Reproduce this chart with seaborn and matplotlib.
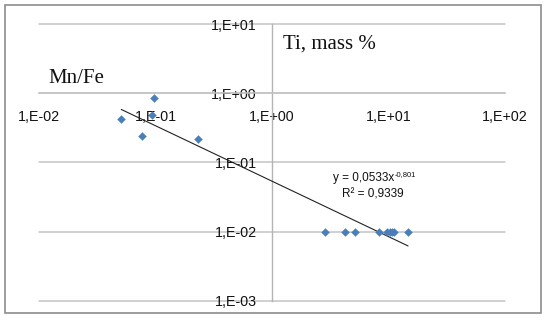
import numpy as np
import pandas as pd
import matplotlib
matplotlib.use("Agg")
import matplotlib.pyplot as plt
import seaborn as sns
from matplotlib.ticker import FixedLocator, FuncFormatter, NullLocator
from matplotlib.patches import Rectangle

# data
ti_mass = [0.0506, 0.096, 0.093, 0.076, 0.229,
           2.86, 4.25, 5.18, 8.3, 9.7, 10.2, 10.6, 11.1, 14.7]
mn_fe = [0.422, 0.847, 0.476, 0.243, 0.22,
         0.01, 0.01, 0.01, 0.01, 0.01, 0.01, 0.01, 0.01, 0.01]

# power trendline shown on the chart
fit_a = 0.0533
fit_b = -0.801
fit_label = "y = 0,0533x"
fit_exp = "-0,801"
fit_r2 = "R² = 0,9339"

x_ticks = [1e-2, 1e-1, 1e0, 1e1, 1e2]
y_ticks = [1e-3, 1e-2, 1e-1, 1e0, 1e1]

df = pd.DataFrame({"ti": ti_mass, "mnfe": mn_fe})
x_fit = np.array([min(ti_mass), max(ti_mass)])
fit_df = pd.DataFrame({"ti": x_fit, "mnfe": fit_a * x_fit ** fit_b})

sns.set_theme(style="white")
plt.rcParams["font.family"] = ["Liberation Sans", "DejaVu Sans"]

W, H = 550, 323
fig = plt.figure(figsize=(W / 100, H / 100), dpi=100)
ax = fig.add_axes([39.3 / W, 1 - 300.7 / H, (505 - 39.3) / W, (300.7 - 24) / H])

ax.set_xscale("log")
ax.set_yscale("log")
ax.set_xlim(1e-2, 1e2)
ax.set_ylim(1e-3, 1e1)

ax.yaxis.grid(True, color="#c4c4c4", linewidth=1.1, clip_on=False)
ax.set_axisbelow(True)

sns.lineplot(data=fit_df, x="ti", y="mnfe", ax=ax, color="#222222",
             linewidth=0.8, zorder=3)
sns.scatterplot(data=df, x="ti", y="mnfe", ax=ax, marker="D", s=16,
                color="#4A7EBB", edgecolor="#4A7EBB", linewidth=0.3, zorder=4)

for side in ("top", "right"):
    ax.spines[side].set_visible(False)
ax.spines["left"].set_position(("data", 1))
ax.spines["bottom"].set_position(("data", 1))
ax.spines["left"].set_color("#b4b4b4")
ax.spines["bottom"].set_color("#c4c4c4")
ax.spines["left"].set_linewidth(1.0)
ax.spines["bottom"].set_linewidth(1.1)

fmt = FuncFormatter(lambda v, p: "1,E%+03d" % int(round(np.log10(v))))
ax.xaxis.set_major_locator(FixedLocator(x_ticks))
ax.yaxis.set_major_locator(FixedLocator(y_ticks))
ax.xaxis.set_minor_locator(NullLocator())
ax.yaxis.set_minor_locator(NullLocator())
ax.xaxis.set_major_formatter(fmt)
ax.yaxis.set_major_formatter(fmt)
ax.tick_params(axis="x", direction="out", length=4, width=1.0,
               color="#c4c4c4", pad=8, labelsize=10.3, labelcolor="#111111")
ax.tick_params(axis="y", length=0, pad=11, labelsize=10.3, labelcolor="#111111")
ax.set_xlabel("")
ax.set_ylabel("")

fig.text(48 / W, 1 - 79 / H, "Mn/Fe", family="Liberation Serif", fontsize=15,
         va="center", ha="left", color="#111111")
fig.text(283 / W, 1 - 44 / H, "Ti, mass %", family="Liberation Serif",
         fontsize=15, va="center", ha="left", color="#111111")

eq = fig.text(333 / W, 1 - 178 / H, fit_label, fontsize=8.5,
              ha="left", va="center", color="#111111")
ax.annotate(fit_exp, xy=(1, 1), xycoords=eq, xytext=(0.5, 0.5),
            textcoords="offset points", fontsize=5.5, ha="left", va="top",
            color="#111111")
fig.text(373 / W, 1 - 194 / H, fit_r2, fontsize=8.5,
         ha="center", va="center", color="#111111")

fig.patches.append(Rectangle((5 / W, 1 - 313 / H), 536 / W, 308 / H,
                             transform=fig.transFigure, fill=False,
                             edgecolor="#8c8c8c", linewidth=1.2))

fig.savefig("out.png", dpi=100)
